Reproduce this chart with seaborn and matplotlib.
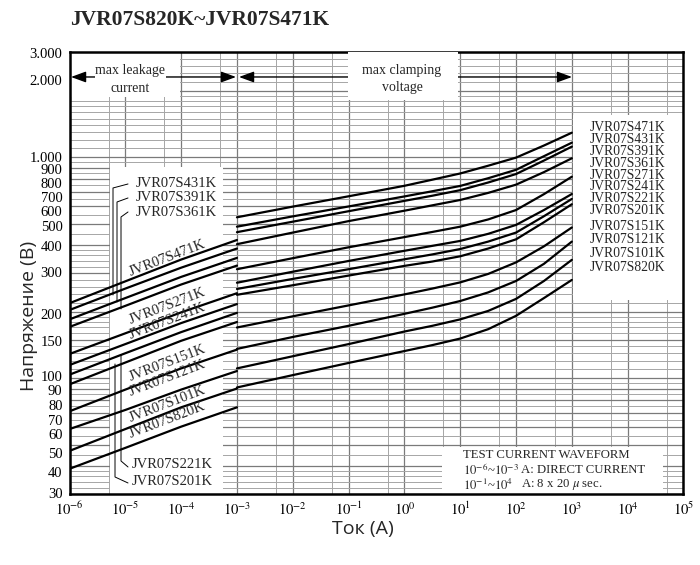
"""Varistor V-I curves, JVR07S820K ~ JVR07S471K (max leakage + max clamping)."""
import matplotlib.pyplot as plt
import matplotlib.transforms as mtransforms
import numpy as np
import pandas as pd
import seaborn as sns
from matplotlib.patches import Rectangle
from matplotlib.ticker import FixedLocator, NullFormatter

# ---- data ----
models = ["JVR07S471K", "JVR07S431K", "JVR07S391K", "JVR07S361K",
          "JVR07S271K", "JVR07S241K", "JVR07S221K", "JVR07S201K",
          "JVR07S151K", "JVR07S121K", "JVR07S101K", "JVR07S820K"]

# max leakage current region (A -> V)
leak_current = [1e-6, 1e-5, 1e-4, 1e-3]
leak_471 = [219, 275, 345, 423]
leak_431 = [204, 255, 317, 387]
leak_391 = [185, 231, 288, 351]
leak_361 = [171, 213, 266, 324]
leak_271 = [129, 160, 199, 243]
leak_241 = [115, 143, 178, 217]
leak_221 = [104, 130, 162, 198]
leak_201 = [94, 118, 148, 180]
leak_151 = [71, 89, 111, 135]
leak_121 = [59, 72, 89, 108]
leak_101 = [47, 59, 74, 90]
leak_820 = [39, 48.5, 60.5, 74]

# max clamping voltage region (log10 A -> V)
clamp_log_current = [-3, -2, -1, 0, 0.5, 1, 1.5, 2, 2.5, 3]
clamp_471 = [536, 599, 667, 744, 793, 846, 917, 998, 1132, 1294]
clamp_431 = [486, 541, 600, 666, 703, 743, 805, 879, 1013, 1166]
clamp_391 = [459, 512, 571, 636, 671, 711, 770, 841, 968, 1119]
clamp_361 = [405, 457, 515, 574, 607, 642, 691, 753, 858, 991]
clamp_271 = [312, 350, 392, 436, 460, 486, 524, 578, 682, 818]
clamp_241 = [271, 304, 340, 378, 398, 419, 451, 495, 578, 683]
clamp_221 = [254, 282, 312, 346, 364, 385, 416, 457, 542, 649]
clamp_201 = [239, 264, 292, 323, 338, 357, 387, 426, 509, 614]
clamp_151 = [170, 191, 214, 240, 255, 272, 297, 335, 396, 482]
clamp_121 = [136, 154, 173, 196, 209, 224, 245, 276, 330, 416]
clamp_101 = [111, 126, 143, 163, 173, 185, 202, 229, 276, 344]
clamp_820 = [91, 103.5, 117.5, 133, 141.5, 151.5, 167, 192, 231, 279]

leak_sets = [leak_471, leak_431, leak_391, leak_361, leak_271, leak_241,
             leak_221, leak_201, leak_151, leak_121, leak_101, leak_820]
clamp_sets = [clamp_471, clamp_431, clamp_391, clamp_361, clamp_271, clamp_241,
              clamp_221, clamp_201, clamp_151, clamp_121, clamp_101, clamp_820]

y_tick_values = [30, 40, 50, 60, 70, 80, 90, 100, 150, 200, 300, 400, 500,
                 600, 700, 800, 900, 1000, 2000, 3000]
y_tick_labels = ["30", "40", "50", "60", "70", "80", "90", "100", "150", "200",
                 "300", "400", "500", "600", "700", "800", "900",
                 "1.000", "2.000", "3.000"]
x_decades = list(range(-6, 6))

# long table, one segment per curve part
rows = []
clamp_current = [10.0 ** p for p in clamp_log_current]
for name, lk, cl in zip(models, leak_sets, clamp_sets):
    for i, v in zip(leak_current, lk):
        rows.append((name + " leak", i, v))
    for i, v in zip(clamp_current, cl):
        rows.append((name + " clamp", i, v))
df = pd.DataFrame(rows, columns=["segment", "current", "voltage"])

sns.set_style("white")
plt.rcParams["font.family"] = ["Liberation Serif", "DejaVu Serif"]
plt.rcParams["mathtext.fontset"] = "stix"

fig = plt.figure(figsize=(7, 5.65), dpi=100)
ax = fig.add_axes([0.0993, 0.1257, 0.8771, 0.7823])

sns.lineplot(data=df, x="current", y="voltage", units="segment", estimator=None,
             sort=False, color="black", linewidth=1.6, legend=False, ax=ax, zorder=3)

ax.set_xscale("log")
ax.set_yscale("log")
ax.set_xlim(1e-6, 1e5)
ax.set_ylim(30, 3000)

ax.set_xticks([10.0 ** k for k in x_decades])
ax.set_xticklabels([f"$10^{{{k}}}$" for k in x_decades])
ax.set_yticks(y_tick_values)
ax.set_yticklabels(y_tick_labels)

minor_mult = [1.1, 1.2, 1.3, 1.4, 1.5, 1.6, 1.7, 1.8, 1.9, 2.2, 2.4, 2.6, 2.8,
              3.2, 3.4, 3.6, 3.8, 4.5, 5.5, 6.5, 7.5, 8.5, 9.5]
y_minor = [m * d for d in (10, 100, 1000) for m in minor_mult if 30 < m * d < 3000]
ax.yaxis.set_minor_locator(FixedLocator(y_minor))
ax.xaxis.set_minor_locator(FixedLocator([5 * 10.0 ** k for k in x_decades[:-1]]))
ax.xaxis.set_minor_formatter(NullFormatter())
ax.yaxis.set_minor_formatter(NullFormatter())

ax.set_axisbelow(True)
ax.grid(which="major", color="#7a7a7a", linewidth=0.9)
ax.grid(which="minor", color="#a6a6a6", linewidth=0.7)
ax.tick_params(which="both", length=0, labelsize=10.5, colors="black")
ax.tick_params(axis="y", pad=5)
ax.tick_params(axis="x", pad=5)
for s in ax.spines.values():
    s.set_linewidth(1.8)
    s.set_color("black")

# the printed sheet spaces its voltage labels a little unevenly; nudge them (px)
y_label_nudge = [1, -5.6, -8, -6.5, -7.3, -5.1, -1.4, 2.4, -1.5, -2.1,
                 0.5, -0.6, -2, -5, -5.8, -4.6, -1.9, 0.4, 10.9, -1]
for lab, dy in zip(ax.get_yticklabels(), y_label_nudge):
    lab.set_transform(lab.get_transform()
                      + mtransforms.ScaledTranslation(0, dy / 100, fig.dpi_scale_trans))

ax.set_xlabel("Ток (А)", family=["Open Sans", "DejaVu Sans"], fontsize=14)
ax.set_ylabel("Напряжение (В)", family=["Open Sans", "DejaVu Sans"], fontsize=14)
ax.xaxis.set_label_coords(0.478, -0.058)
ax.yaxis.set_label_coords(-0.052, 0.403)

fig.text(70 / 700, 1 - 20 / 565, "JVR07S820K~JVR07S471K", fontsize=15.5,
         fontweight="bold", ha="left", va="center")


# helper: pixel position on the 700x565 canvas -> axes fraction
def pos(x, y):
    return ((x - 69.5) / 614, (494 - y) / 442)


def white_box(x0, y0, x1, y1, z=2):
    (ax0, ay1), (ax1, ay0) = pos(x0, y0), pos(x1, y1)
    ax.add_patch(Rectangle((ax0, ay0), ax1 - ax0, ay1 - ay0, transform=ax.transAxes,
                           facecolor="white", edgecolor="none", zorder=z))


# grid-free areas
white_box(70, 52, 180, 97)          # max leakage
white_box(110, 167, 223, 494)       # leakage labels
white_box(573, 115, 684, 300)       # right labels
white_box(442, 447, 663, 494)       # test waveform

# range arrows
arrow = dict(arrowstyle="<|-|>,head_length=0.6,head_width=0.22", color="black",
             lw=1.0, shrinkA=0, shrinkB=0, mutation_scale=15)
ax.annotate("", xy=pos(236, 77), xytext=pos(71, 77), xycoords="axes fraction",
            arrowprops=arrow, zorder=3)
ax.annotate("", xy=pos(572, 77), xytext=pos(239, 77), xycoords="axes fraction",
            arrowprops=arrow, zorder=3)
white_box(95, 60, 166, 97, z=3.5)
white_box(348, 50, 458, 100, z=3.5)

top_txt = dict(transform=ax.transAxes, fontsize=10, ha="center", va="center", zorder=4)
ax.text(*pos(130, 71), "max leakage", **top_txt)
ax.text(*pos(130, 89), "current", **top_txt)
ax.text(*pos(402, 71), "max clamping", **top_txt)
ax.text(*pos(402, 88), "voltage", **top_txt)

# right-hand model list
right_y = [128, 139.8, 151.6, 163.4, 175.2, 187, 198.8, 210.6, 227, 239.8, 254, 268]
for name, y in zip(models, right_y):
    ax.text(*pos(590, y), name, transform=ax.transAxes, fontsize=9.8,
            ha="left", va="center", zorder=4)

# labels along the leakage curves
for name, y in [("JVR07S471K", 258), ("JVR07S271K", 306), ("JVR07S241K", 321),
                ("JVR07S151K", 363), ("JVR07S121K", 378), ("JVR07S101K", 404),
                ("JVR07S820K", 420)]:
    ax.text(*pos(167, y), name, transform=ax.transAxes, fontsize=10.5, rotation=21,
            rotation_mode="anchor", ha="center", va="center", zorder=4)

# labels with leader lines
leaders = [("JVR07S431K", 136, 184, [(128, 184), (113, 188), (113, 295)]),
           ("JVR07S391K", 136, 198, [(128, 198), (117, 202), (117, 302)]),
           ("JVR07S361K", 136, 212.5, [(128, 212), (121, 217), (121, 309)]),
           ("JVR07S221K", 132, 465, [(128, 467), (121, 461), (121, 355)]),
           ("JVR07S201K", 132, 481.5, [(128, 483), (115, 477), (115, 364)])]
for name, tx, ty, pts in leaders:
    ax.text(*pos(tx, ty), name, transform=ax.transAxes, fontsize=10.5,
            ha="left", va="center", zorder=4)
    xy = np.array([pos(px, py) for px, py in pts])
    ax.plot(xy[:, 0], xy[:, 1], transform=ax.transAxes, color="black", lw=0.7, zorder=4)

# test waveform note
note = dict(transform=ax.transAxes, fontsize=9.2, ha="left", va="center", zorder=4)
ax.text(*pos(463, 455.5), "TEST CURRENT WAVEFORM", **note)
ax.text(*pos(463, 470), "$10^{-6}$~$10^{-3}$", **note)
ax.text(*pos(521, 470), "A: DIRECT CURRENT", **note)
ax.text(*pos(463, 485), "$10^{-1}$~$10^{4}$", **note)
ax.text(*pos(521, 485), "A: 8 x 20 $\\mu$ sec.", **note)

fig.savefig("out.png", dpi=100)
